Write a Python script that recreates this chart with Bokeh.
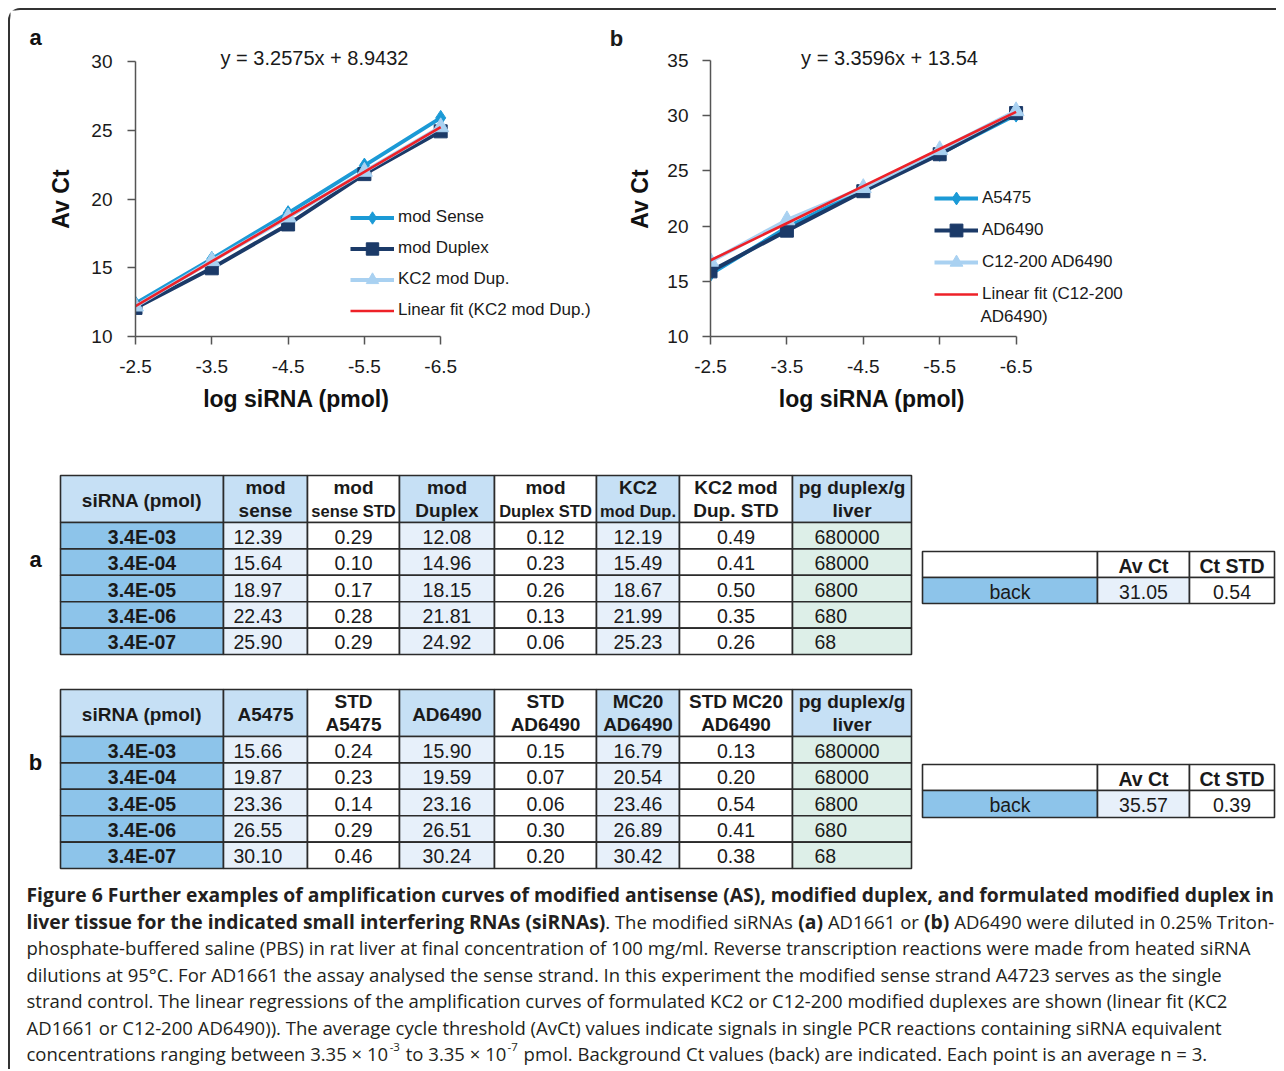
import numpy as np
from bokeh.plotting import figure
from bokeh.models import Range1d, FixedTicker, Legend, LegendItem, Label
from bokeh.layouts import row, column
from bokeh.embed import file_html
from bokeh.resources import INLINE
from bokeh.core.properties import value

# ---------------- data ----------------
log_sirna = [-2.5, -3.5, -4.5, -5.5, -6.5]
conc_labels = ["3.4E-03", "3.4E-04", "3.4E-05", "3.4E-06", "3.4E-07"]
pg_liver = ["680000", "68000", "6800", "680", "68"]

# panel a
mod_sense = [12.39, 15.64, 18.97, 22.43, 25.90]
mod_sense_std = [0.29, 0.10, 0.17, 0.28, 0.29]
mod_duplex = [12.08, 14.96, 18.15, 21.81, 24.92]
mod_duplex_std = [0.12, 0.23, 0.26, 0.13, 0.06]
kc2_mod_dup = [12.19, 15.49, 18.67, 21.99, 25.23]
kc2_mod_dup_std = [0.49, 0.41, 0.50, 0.35, 0.26]
fit_a = [12.20, 15.46, 18.72, 21.97, 25.23]
eq_a = "y = 3.2575x + 8.9432"
back_a = [31.05, 0.54]

# panel b
a5475 = [15.66, 19.87, 23.36, 26.55, 30.10]
a5475_std = [0.24, 0.23, 0.14, 0.29, 0.46]
ad6490 = [15.90, 19.59, 23.16, 26.51, 30.24]
ad6490_std = [0.15, 0.07, 0.06, 0.30, 0.20]
mc20_ad6490 = [16.79, 20.54, 23.46, 26.89, 30.42]
mc20_ad6490_std = [0.13, 0.20, 0.54, 0.41, 0.38]
fit_b = [16.90, 20.26, 23.62, 26.98, 30.34]
eq_b = "y = 3.3596x + 13.54"
back_b = [35.57, 0.39]

X_TITLE = "log siRNA (pmol)"
Y_TITLE = "Av Ct"

# ---------------- styles ----------------
FONT = "Liberation Sans"
C_BRIGHT = "#1b9ad6"
C_NAVY = "#1b3a68"
C_LIGHT = "#a9d1f1"
C_RED = "#ee2128"
AX_C = "#555555"
TXT_C = "#1a1a1a"
TOP_H = 438
NB = "\u00a0"


def blank_fig(width, height, x0, x1, y0, y1):
    f = figure(width=width, height=height, x_range=Range1d(x0, x1), y_range=Range1d(y1, y0),
               output_backend="svg", toolbar_location=None, x_axis_location=None,
               y_axis_location=None, min_border=0)
    f.grid.visible = False
    f.outline_line_color = None
    f.background_fill_color = "white"
    f.border_fill_color = "white"
    return f


def make_chart(width, frame_left, page_left, sx, sy, ymax, series, fit_vals, fit_label,
               eq_text, eq_page, extra_texts, leg_loc, leg_gh, lab_standoff, title_standoff,
               x_pad, y_pad):
    frame_bottom_page = 336
    frame_h = frame_bottom_page - 10
    frame_w = width - (frame_left - page_left)
    x_end = -2.5 - frame_w / sx
    y_end = 10 + frame_h / sy
    # non-breaking-space padding shifts the centred axis titles to where the reference shows them
    p = figure(width=width, height=TOP_H, x_range=Range1d(-2.5, x_end), y_range=Range1d(10, y_end),
               output_backend="svg", toolbar_location=None,
               min_border_left=frame_left - page_left, min_border_right=0,
               min_border_top=0, min_border_bottom=448 - frame_bottom_page,
               x_axis_label=X_TITLE + NB * x_pad, y_axis_label=Y_TITLE + NB * y_pad)
    p.outline_line_color = None
    p.grid.visible = False
    p.background_fill_color = "white"
    p.border_fill_color = "white"

    def dx(px):
        return -2.5 - (px - frame_left) / sx

    def dy(py):
        return 10 + (frame_bottom_page - py) / sy

    for ax in (p.xaxis[0], p.yaxis[0]):
        ax.axis_line_color = AX_C
        ax.axis_line_width = 1.5
        ax.major_tick_line_color = AX_C
        ax.major_tick_line_width = 1.5
        ax.major_tick_out = 8
        ax.major_tick_in = 0
        ax.minor_tick_out = 0
        ax.minor_tick_in = 0
        ax.major_label_text_font = FONT
        ax.major_label_text_font_size = "19px"
        ax.major_label_text_color = TXT_C
        ax.axis_label_text_font = FONT
        ax.axis_label_text_font_size = "23px"
        ax.axis_label_text_font_style = "bold"
        ax.axis_label_text_color = "#111111"
    p.xaxis.ticker = FixedTicker(ticks=log_sirna)
    p.xaxis.major_label_overrides = {v: f"{v}" for v in log_sirna}
    p.xaxis.bounds = (min(log_sirna), max(log_sirna))
    p.xaxis.major_label_standoff = 15
    p.xaxis.axis_label_standoff = 10
    yt = list(range(10, ymax + 1, 5))
    p.yaxis.ticker = FixedTicker(ticks=yt)
    p.yaxis.major_label_overrides = {v: str(v) for v in yt}
    p.yaxis.bounds = (10, ymax)
    p.yaxis.major_label_standoff = lab_standoff
    p.yaxis.axis_label_standoff = title_standoff

    items = []
    for vals, color, marker, size, label in series:
        rl = p.line(log_sirna, vals, line_color=color, line_width=4)
        rm = p.scatter(log_sirna, vals, marker=marker, size=size, fill_color=color, line_color=color)
        items.append(LegendItem(label=label, renderers=[rl, rm]))
    rf = p.line(log_sirna, fit_vals, line_color=C_RED, line_width=2.6)
    items.append(LegendItem(label=fit_label, renderers=[rf]))

    legend = Legend(items=items, location=leg_loc, orientation="vertical",
                    glyph_width=44, glyph_height=leg_gh, label_height=20, spacing=0,
                    padding=0, margin=0, label_standoff=4,
                    border_line_alpha=0, background_fill_alpha=0,
                    label_text_font=FONT, label_text_font_size="17px", label_text_color=TXT_C)
    p.add_layout(legend)

    p.add_layout(Label(x=dx(eq_page[0]), y=dy(eq_page[1]), text=eq_text, text_font=FONT,
                       text_font_size="20px", text_color=TXT_C, text_align="center",
                       text_baseline="middle"))
    for (px, py, t, size, bold, align) in extra_texts:
        p.text(x=[dx(px)], y=[dy(py)], text=[t], text_font=value(FONT), text_font_size=size,
               text_font_style="bold" if bold else "normal", text_color=TXT_C,
               text_align=align, text_baseline="middle")
    return p


# panel label "a" strip (page x 10..45)
la = blank_fig(35, TOP_H, 10, 45, 10, 448)
la.text(x=[35], y=[46], text=["a"], text_font=value(FONT), text_font_size="22px",
        text_font_style="bold", text_color="#111111", text_align="center", text_baseline="middle")

# chart a: page x 45..623 ; chart b: page x 623..1276
fa = make_chart(578, 135, 45, 76.3, 13.75, 30,
                [(mod_sense, C_BRIGHT, "diamond", 15, "mod Sense"),
                 (mod_duplex, C_NAVY, "square", 13, "mod Duplex"),
                 (kc2_mod_dup, C_LIGHT, "triangle", 16, "KC2 mod Dup.")],
                fit_a, "Linear fit (KC2 mod Dup.)", eq_a, (314, 57),
                [(616, 38, "b", "22px", True, "center")],
                (215, 10.5), 31, 15, 14, 26, 8)

fb = make_chart(653, 710, 623, 76.4, 11.04, 35,
                [(a5475, C_BRIGHT, "diamond", 15, "A5475"),
                 (ad6490, C_NAVY, "square", 13, "AD6490"),
                 (mc20_ad6490, C_LIGHT, "triangle", 16, "C12-200 AD6490")],
                fit_b, "Linear fit (C12-200", eq_b, (889, 57),
                [(980, 316, "AD6490)", "17px", False, "left")],
                (224, 26), 32, 14, 11, 38, 8)

# ---------------- tables + caption canvas (page pixel coordinates) ----------------
fc = blank_fig(1266, 621, 10, 1276, 448, 1069)


def txt(xs, ys, texts, align="center", bold=False, size="19px", font=FONT, color=TXT_C):
    fc.text(x=list(xs), y=list(ys), text=list(texts), text_font=value(font),
            text_font_size=size, text_font_style="bold" if bold else "normal",
            text_align=align, text_baseline="middle", text_color=color)


GRID_C = "#2b2b2b"
HEAD_BG = "#c6e0f5"
KEY_BG = "#8dc4ea"
VAL_BG = "#e7f0fa"
PG_BG = "#ddefe8"
WHITE = "#ffffff"
COLS = [60, 223, 307, 399, 494, 596, 679, 792, 911]
KINDS = ["key", "val", "std", "val", "std", "val", "std", "pg"]
DATA_BG = {"key": KEY_BG, "val": VAL_BG, "std": WHITE, "pg": PG_BG}


def fmt(v):
    return [f"{x:.2f}" for x in v]


def draw_table(top, hb, bottom, headers, cols_text):
    rows = np.linspace(hb, bottom, 6)
    L, R, T, B, F = [], [], [], [], []
    for j, k in enumerate(KINDS):
        L.append(COLS[j]); R.append(COLS[j + 1]); T.append(top); B.append(hb)
        F.append(WHITE if k == "std" else HEAD_BG)
        for i in range(5):
            L.append(COLS[j]); R.append(COLS[j + 1]); T.append(rows[i]); B.append(rows[i + 1])
            F.append(DATA_BG[k])
    fc.quad(left=L, right=R, top=T, bottom=B, fill_color=F, line_color=GRID_C, line_width=1.6)
    for j, lines in enumerate(headers):
        cx = (COLS[j] + COLS[j + 1]) / 2
        if len(lines) == 1:
            ys = [(top + hb) / 2 + 1]
        else:
            ys = [top + 11.5, hb - 12]
        for (t, s), y in zip(lines, ys):
            txt([cx], [y], [t], bold=True, size=s)
    cy = [(rows[i] + rows[i + 1]) / 2 + 1 for i in range(5)]
    for j, texts in enumerate(cols_text):
        k = KINDS[j]
        if k == "key":
            txt([(COLS[j] + COLS[j + 1]) / 2] * 5, cy, texts, bold=True, size="19.5px")
        elif j == 1:
            txt([COLS[j] + 10] * 5, cy, texts, align="left", size="19.5px")
        elif k == "pg":
            txt([COLS[j] + 22] * 5, cy, texts, align="left", size="19.5px")
        else:
            txt([(COLS[j] + COLS[j + 1]) / 2] * 5, cy, texts, size="19.5px")


def draw_back(top, mid, bottom, vals):
    bx = [922, 1097, 1189, 1274]
    fc.quad(left=bx[:-1] * 2, right=bx[1:] * 2, top=[top] * 3 + [mid] * 3,
            bottom=[mid] * 3 + [bottom] * 3,
            fill_color=[WHITE, WHITE, WHITE, KEY_BG, VAL_BG, WHITE],
            line_color=GRID_C, line_width=1.6)
    hc = (top + mid) / 2 + 1
    dc = (mid + bottom) / 2 + 1
    txt([(bx[1] + bx[2]) / 2, (bx[2] + bx[3]) / 2], [hc, hc], ["Av Ct", "Ct STD"], bold=True, size="19.5px")
    txt([(bx[0] + bx[1]) / 2, (bx[1] + bx[2]) / 2, (bx[2] + bx[3]) / 2], [dc] * 3,
        ["back"] + fmt(vals), size="19.5px")


H19 = "19px"
H16 = "16.5px"
headers_a = [[("siRNA (pmol)", H19)], [("mod", H19), ("sense", H19)],
             [("mod", H19), ("sense STD", H16)], [("mod", H19), ("Duplex", H19)],
             [("mod", H19), ("Duplex STD", H16)], [("KC2", H19), ("mod Dup.", H16)],
             [("KC2 mod", H19), ("Dup. STD", H19)], [("pg duplex/g", H19), ("liver", H19)]]
headers_b = [[("siRNA (pmol)", H19)], [("A5475", H19)],
             [("STD", H19), ("A5475", H19)], [("AD6490", H19)],
             [("STD", H19), ("AD6490", H19)], [("MC20", H19), ("AD6490", H19)],
             [("STD MC20", H19), ("AD6490", H19)], [("pg duplex/g", H19), ("liver", H19)]]

draw_table(475, 522, 654, headers_a,
           [conc_labels, fmt(mod_sense), fmt(mod_sense_std), fmt(mod_duplex),
            fmt(mod_duplex_std), fmt(kc2_mod_dup), fmt(kc2_mod_dup_std), pg_liver])
draw_table(689, 736, 868, headers_b,
           [conc_labels, fmt(a5475), fmt(a5475_std), fmt(ad6490),
            fmt(ad6490_std), fmt(mc20_ad6490), fmt(mc20_ad6490_std), pg_liver])
draw_back(551, 577, 603, back_a)
draw_back(764, 790, 817, back_b)

txt([35, 35], [559, 762], ["a", "b"], bold=True, size="22px", color="#111111")

# ---------------- caption ----------------
CAP_FONT = "Open Sans"
REG = {' ': .260, 'a': .556, 'b': .613, 'c': .476, 'd': .613, 'e': .561, 'f': .339, 'g': .548,
       'h': .614, 'i': .253, 'j': .253, 'k': .525, 'l': .253, 'm': .930, 'n': .614, 'o': .604,
       'p': .613, 'q': .613, 'r': .408, 's': .477, 't': .353, 'u': .614, 'v': .501, 'w': .778,
       'x': .524, 'y': .501, 'z': .461, 'A': .633, 'B': .648, 'C': .631, 'D': .729, 'E': .556,
       'F': .516, 'G': .728, 'H': .738, 'I': .279, 'J': .267, 'K': .614, 'L': .519, 'M': .903,
       'N': .754, 'O': .779, 'P': .602, 'Q': .779, 'R': .618, 'S': .549, 'T': .553, 'U': .728,
       'V': .595, 'W': .926, 'X': .577, 'Y': .560, 'Z': .571, '.': .266, ',': .245, '(': .297,
       ')': .297, '-': .322, '%': .823, '/': .367, '=': .572, '×': .572, '°': .428, ':': .266}
BOLD = {' ': .260, 'a': .590, 'b': .619, 'c': .513, 'd': .619, 'e': .585, 'f': .371, 'g': .551,
        'h': .642, 'i': .300, 'j': .300, 'k': .601, 'l': .300, 'm': .960, 'n': .642, 'o': .607,
        'p': .619, 'q': .619, 'r': .438, 's': .510, 't': .412, 'u': .642, 'v': .564, 'w': .851,
        'x': .576, 'y': .565, 'z': .489, 'A': .689, 'B': .702, 'C': .656, 'D': .745, 'E': .568,
        'F': .583, 'G': .745, 'H': .806, 'I': .371, 'K': .677, 'L': .577, 'M': 1.0, 'N': .800,
        'O': .795, 'P': .654, 'R': .674, 'S': .569, 'T': .590, '.': .297, ',': .291, '(': .339,
        ')': .339, '-': .322}
for d in (REG, BOLD):
    for ch in "0123456789":
        d[ch] = .572
BOLD_K = 1.017


def em_w(s, table, k=1.0):
    return sum(table.get(ch, 0.55) for ch in s) * k


caption = [
    [("Figure 6 Further examples of amplification curves of modified antisense (AS), modified duplex, and formulated modified duplex in", "b")],
    [("liver tissue for the indicated small interfering RNAs (siRNAs)", "b"), (". The modified siRNAs ", "r"),
     ("(a)", "b"), (" AD1661 or ", "r"), ("(b)", "b"), (" AD6490 were diluted in 0.25% Triton-", "r")],
    [("phosphate-buffered saline (PBS) in rat liver at final concentration of 100 mg/ml. Reverse transcription reactions were made from heated siRNA", "r")],
    [("dilutions at 95°C. For AD1661 the assay analysed the sense strand. In this experiment the modified sense strand A4723 serves as the single", "r")],
    [("strand control. The linear regressions of the amplification curves of formulated KC2 or C12-200 modified duplexes are shown (linear fit (KC2", "r")],
    [("AD1661 or C12-200 AD6490)). The average cycle threshold (AvCt) values indicate signals in single PCR reactions containing siRNA equivalent", "r")],
    [("concentrations ranging between 3.35 × 10", "r"), ("-3", "s"), (" to 3.35 × 10", "r"), ("-7", "s"),
     (" pmol. Background Ct values (back) are indicated. Each point is an average n = 3.", "r")],
]
reg_size = (1252 - 26) / em_w(caption[2][0][0], REG)
bold_size = (1276 - 26) / em_w(caption[0][0][0], BOLD, BOLD_K)
sup_size = reg_size * 0.62
cap_y = [894, 921, 947, 974, 1000, 1027, 1053]
CAP_C = "#231f20"
for segs, y in zip(caption, cap_y):
    x = 26.0
    for t, st in segs:
        lead = t[:len(t) - len(t.lstrip())]
        core = t.strip()
        if st == "b":
            tab, size, k, yy = BOLD, bold_size, BOLD_K, y
        elif st == "r":
            tab, size, k, yy = REG, reg_size, 1.0, y
        else:
            tab, size, k, yy = REG, sup_size, 1.0, y - 7
        x0 = x + em_w(lead, tab, k) * size + (1 if st == "s" else 0)
        txt([x0], [yy], [core], align="left", bold=(st == "b"), size=f"{size:.2f}px",
            font=CAP_FONT, color=CAP_C)
        adv = em_w(t, tab, k) * size + (2 if st == "s" else 0)
        if st == "b" and len(t) > 20:
            adv -= 3
        x += adv

layout = column(row(la, fa, fb), fc,
                styles={"margin-left": "8px", "margin-top": "8px",
                        "border-left": "2px solid #333333", "border-top": "2px solid #333333",
                        "border-top-left-radius": "12px"})

open("out.html", "w").write(file_html(layout, INLINE))
